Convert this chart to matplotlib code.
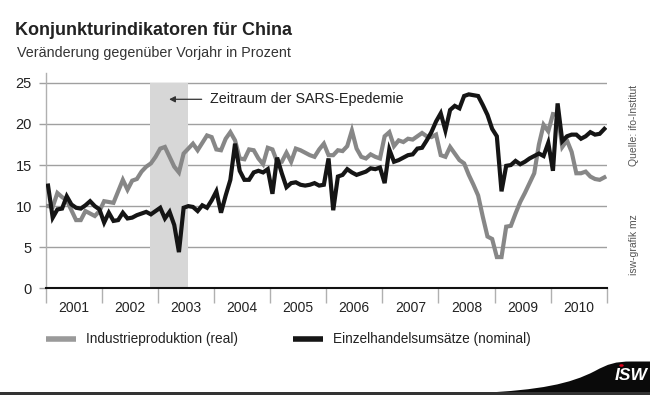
import matplotlib
matplotlib.use("Agg")
import matplotlib.pyplot as plt
import numpy as np
from matplotlib.path import Path
from matplotlib.patches import PathPatch, Rectangle, Circle

# ---------------- data ----------------
years = [2001, 2002, 2003, 2004, 2005, 2006, 2007, 2008, 2009, 2010]
y_ticks = [0, 5, 10, 15, 20, 25]

# Industrieproduktion (real), monthly YoY %, Jan 2001 - Dec 2010
industrie = [
    10.0, 9.9, 11.6, 11.1, 10.7, 9.5, 8.3, 8.3, 9.4, 9.1, 8.8, 9.4,        # 2001
    10.6, 10.5, 10.4, 11.8, 13.2, 12.0, 13.1, 13.3, 14.2, 14.8, 15.2, 16.0,  # 2002
    17.0, 17.2, 16.0, 14.8, 14.1, 16.4, 17.0, 17.6, 16.8, 17.7, 18.6, 18.4,  # 2003
    16.9, 16.8, 18.2, 19.0, 18.0, 15.8, 15.7, 16.9, 16.8, 15.8, 15.1, 17.1,  # 2004
    16.9, 15.4, 15.4, 16.5, 15.4, 17.0, 16.8, 16.5, 16.2, 16.0, 16.9, 17.6,  # 2005
    16.2, 16.2, 16.8, 16.7, 17.3, 19.2, 17.0, 16.0, 15.8, 16.3, 16.0, 15.8,  # 2006
    18.5, 19.0, 17.3, 18.0, 17.8, 18.2, 18.1, 18.5, 18.9, 18.5, 18.4, 18.7,  # 2007
    16.2, 16.0, 17.2, 16.4, 15.6, 15.2, 13.8, 12.6, 11.3, 8.7, 6.3, 6.0,     # 2008
    3.8, 3.8, 7.5, 7.6, 9.1, 10.5, 11.6, 12.8, 14.0, 17.5, 19.9, 19.1,       # 2009
    21.2, 21.1, 17.2, 18.0, 16.6, 14.0, 14.0, 14.2, 13.6, 13.3, 13.2, 13.5,  # 2010
]

# Einzelhandelsumsaetze (nominal), monthly YoY %
einzelhandel = [
    12.5, 8.6, 9.6, 9.7, 11.2, 10.2, 9.8, 9.7, 10.1, 10.6, 10.0, 9.6,       # 2001
    8.0, 9.2, 8.2, 8.3, 9.2, 8.5, 8.6, 8.9, 9.1, 9.3, 9.0, 9.4,             # 2002
    9.8, 8.5, 9.3, 7.7, 4.4, 9.8, 10.0, 9.9, 9.4, 10.1, 9.8, 10.7,          # 2003
    11.8, 9.2, 11.3, 13.2, 17.6, 14.3, 13.2, 13.2, 14.1, 14.3, 14.1, 14.5,  # 2004
    11.5, 15.9, 14.0, 12.3, 12.8, 12.9, 12.6, 12.5, 12.6, 12.8, 12.5, 12.6,  # 2005
    15.8, 9.5, 13.6, 13.8, 14.5, 14.1, 13.8, 14.0, 14.2, 14.6, 14.5, 14.7,   # 2006
    12.8, 16.9, 15.4, 15.6, 15.9, 16.2, 16.3, 17.0, 17.1, 18.0, 19.0, 20.3,  # 2007
    21.3, 19.2, 21.7, 22.2, 21.9, 23.4, 23.6, 23.5, 23.4, 22.3, 21.1, 19.4,  # 2008
    18.5, 11.8, 14.9, 15.0, 15.5, 15.1, 15.4, 15.8, 16.1, 16.4, 16.1, 17.7,  # 2009
    14.3, 22.5, 17.9, 18.5, 18.7, 18.7, 18.2, 18.5, 19.0, 18.7, 18.8, 19.4,  # 2010
]

sars_start, sars_end = 2002.86, 2003.53
sars_label = "Zeitraum der SARS-Epedemie"

# ---------------- figure ----------------
W, H = 650, 395
fig = plt.figure(figsize=(W / 100, H / 100), dpi=100)
fig.patch.set_facecolor("white")

def fx(px):
    return px / W

def fy(py):
    return 1 - py / H

ax_left, ax_right, ax_bottom, ax_top = 45.7, 606.7, 288.3, 73
ax = fig.add_axes([fx(ax_left), fy(ax_bottom), (ax_right - ax_left) / W, (ax_bottom - ax_top) / H])

regular = ["Liberation Sans", "DejaVu Sans"]

n = len(industrie)
x = years[0] + (np.arange(n) + 0.5) / 12.0

grey = "#878787"
black = "#151515"

ax.fill_between([sars_start, sars_end], 0, 25, color="#d7d7d7", lw=0, zorder=1.5)
ax.plot(x, industrie, color=grey, lw=3.0, solid_joinstyle="miter", zorder=3,
        label="Industrieproduktion (real)")
ax.plot(x, einzelhandel, color=black, lw=3.0, solid_joinstyle="miter", zorder=4,
        label="Einzelhandelsumsätze (nominal)")

ax.set_xlim(years[0], years[-1] + 1)
ax.set_ylim(0, 26.2)

ax.set_yticks(y_ticks)
ax.set_yticklabels([str(v) for v in y_ticks], fontfamily=regular, fontsize=10.5, color="#222")
ax.yaxis.grid(True, color="#a0a0a0", lw=1.0)
ax.set_axisbelow(True)
ax.tick_params(axis="y", length=5, width=1, color="#a0a0a0", pad=5)

ax.set_xticks([yv + 0.5 for yv in years])
ax.set_xticklabels([str(yv) for yv in years], fontfamily=regular, fontsize=10, color="#222")
ax.set_xticks(list(years) + [years[-1] + 1], minor=True)
ax.tick_params(axis="x", which="major", length=0, pad=9)
ax.tick_params(axis="x", which="minor", length=11, width=1, color="#b0b0b0", direction="out")

for s in ["top", "right"]:
    ax.spines[s].set_visible(False)
ax.spines["left"].set_color("#b0b0b0")
ax.spines["left"].set_linewidth(1)
ax.spines["bottom"].set_color("#111")
ax.spines["bottom"].set_linewidth(1.5)
ax.spines["bottom"].set_zorder(5)

# SARS annotation
ax.annotate("", xy=(2003.20, 23.0), xytext=(2003.78, 23.0),
            arrowprops=dict(arrowstyle="-|>,head_length=0.35,head_width=0.18",
                            color="#333", lw=0.9, shrinkA=0, shrinkB=0))
ax.text(2003.93, 23.0, sars_label, ha="left", va="center", fontsize=10.3,
        fontfamily=regular, color="#222")

# titles
fig.text(fx(15), fy(35), "Konjunkturindikatoren für China", fontsize=13, fontweight="bold",
         fontfamily=regular, color="#222", ha="left", va="baseline")
fig.text(fx(17), fy(56.7), "Veränderung gegenüber Vorjahr in Prozent", fontsize=10.3,
         fontfamily=regular, color="#333", ha="left", va="baseline")

# right side notes
fig.text(fx(634), fy(125), "Quelle: ifo-Institut", rotation=90, fontsize=7.5,
         fontfamily=regular, color="#555", ha="center", va="center")
fig.text(fx(634), fy(245), "isw-grafik mz", rotation=90, fontsize=7.5,
         fontfamily=regular, color="#555", ha="center", va="center")

# legend
leg = fig.legend(loc="center left", bbox_to_anchor=(fx(45.7), fy(339.5)), ncol=2,
                 frameon=False, borderpad=0, borderaxespad=0, handlelength=2.25,
                 handletextpad=0.72, columnspacing=4.0,
                 prop={"family": regular, "size": 9.8})
for t in leg.get_texts():
    t.set_color("#222")
leg.legend_handles[0].set_color("#9a9a9a")
for h in leg.legend_handles:
    h.set_linewidth(4)
    h.set_solid_capstyle("butt")

# bottom swoosh + logo
verts = [(480, 393), (540, 390), (570, 384), (595, 371), (608, 364), (615, 361.5), (632, 361.5),
         (650, 361.5), (650, 395), (480, 395), (480, 393)]
codes = [Path.MOVETO, Path.CURVE4, Path.CURVE4, Path.CURVE4, Path.CURVE4, Path.CURVE4, Path.CURVE4,
         Path.LINETO, Path.LINETO, Path.LINETO, Path.CLOSEPOLY]
path = Path([(fx(a), fy(b)) for a, b in verts], codes)
fig.add_artist(PathPatch(path, facecolor="#0a0a0a", edgecolor="none", transform=fig.transFigure))
fig.add_artist(Rectangle((0, 0), 1, 3 / H, facecolor="#333", edgecolor="none",
                         transform=fig.transFigure))
fig.text(fx(631), fy(376), "ISW", fontsize=12.5, fontweight="bold", fontstyle="italic",
         fontfamily=regular, color="white", ha="center", va="center")
fig.add_artist(Circle((fx(621.5), fy(365.5)), 2.2 / W, facecolor="#e3001b", edgecolor="none",
                      transform=fig.transFigure))

fig.savefig("out.png", dpi=100, facecolor="white")
